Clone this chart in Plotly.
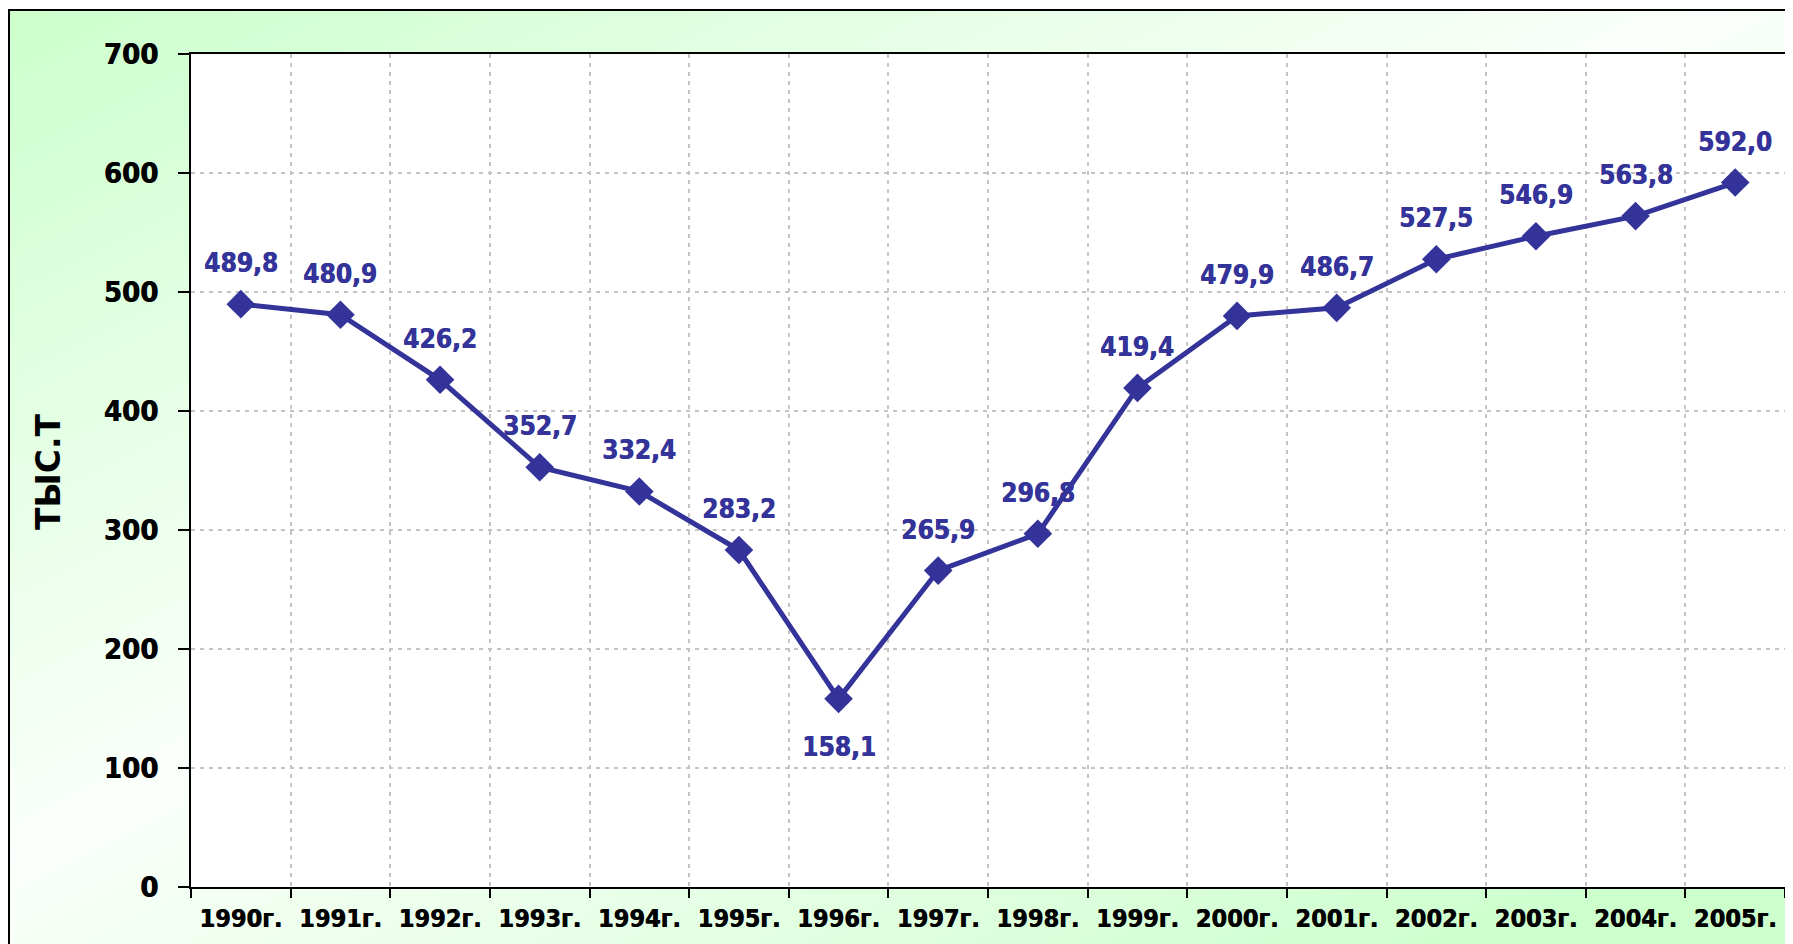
import base64
import plotly.graph_objects as go

years = ["1990г.", "1991г.", "1992г.", "1993г.", "1994г.", "1995г.", "1996г.", "1997г.",
         "1998г.", "1999г.", "2000г.", "2001г.", "2002г.", "2003г.", "2004г.", "2005г."]
values = [489.8, 480.9, 426.2, 352.7, 332.4, 283.2, 158.1, 265.9,
          296.8, 419.4, 479.9, 486.7, 527.5, 546.9, 563.8, 592.0]
y_ticks = [0, 100, 200, 300, 400, 500, 600, 700]
y_title = "ТЫС.Т"

OFF = 8  # page body margin
W, H = 1793 - OFF, 944 - OFF
L, T, R, B = 191 - OFF, 54 - OFF, 8, 57
pw, ph = W - L - R, H - T - B

BLUE = "#333399"
FONT = "DejaVu Sans"
CFONT = "DejaVu Sans Condensed, DejaVu Sans"
BLUE_SH = f"0.6px 0 0 {BLUE}"
BLACK_SH = "0.6px 0 0 black"

# background gradient (SVG data URI)
bx0, by0 = 9 - OFF, 10 - OFF
bw, bh = W - bx0 + 20, H - by0 + 20
svg = f'''<svg xmlns="http://www.w3.org/2000/svg" width="{bw}" height="{bh}" viewBox="0 0 {bw} {bh}" preserveAspectRatio="none">
<defs><linearGradient id="g" gradientUnits="userSpaceOnUse" x1="0" y1="0" x2="676" y2="1360">
<stop offset="0" stop-color="#ccffcc"/><stop offset="0.5" stop-color="#fbfffb"/><stop offset="1" stop-color="#ccffcc"/>
</linearGradient></defs><rect x="0" y="0" width="{bw}" height="{bh}" fill="url(#g)"/></svg>'''
src = "data:image/svg+xml;base64," + base64.b64encode(svg.encode()).decode()

def px_to_paper_x(px):
    return (px - L) / pw

def px_to_paper_y(py):
    return 1 - (py - T) / ph

fig = go.Figure()
fig.add_trace(go.Scatter(
    x=years, y=values, mode="lines+markers",
    line=dict(color=BLUE, width=5),
    marker=dict(symbol="diamond", size=22, color=BLUE),
    hoverinfo="skip", showlegend=False,
))

labels = [f"{v:.1f}".replace(".", ",") for v in values]
min_i = values.index(min(values))
for i, (yr, v, lab) in enumerate(zip(years, values, labels)):
    fig.add_annotation(
        x=yr, y=v, text=lab, showarrow=False,
        yshift=-48 if i == min_i else 41,
        font=dict(family=CFONT, size=26, color=BLUE, weight="bold", shadow=BLUE_SH),
    )

fig.add_annotation(
    xref="paper", yref="paper", x=px_to_paper_x(48 - OFF), y=px_to_paper_y(472 - OFF),
    xanchor="center", yanchor="middle",
    text=y_title, textangle=-90, showarrow=False,
    font=dict(family=FONT, size=33, color="black", weight="bold"),
)

fig.add_layout_image(dict(
    source=src, xref="paper", yref="paper",
    x=px_to_paper_x(bx0), y=px_to_paper_y(by0),
    sizex=bw / pw, sizey=bh / ph, xanchor="left", yanchor="top",
    sizing="stretch", layer="below",
))
fig.add_shape(
    type="rect", xref="paper", yref="paper",
    x0=px_to_paper_x(bx0), y0=px_to_paper_y(H + 20),
    x1=px_to_paper_x(W + 20), y1=px_to_paper_y(by0),
    line=dict(color="black", width=2), fillcolor="rgba(0,0,0,0)", layer="below",
)
fig.add_shape(
    type="rect", xref="paper", yref="paper", x0=0, y0=0, x1=1, y1=1,
    line=dict(width=0), fillcolor="white", layer="below",
)

fig.update_layout(
    width=W, height=H,
    margin=dict(l=L, r=R, t=T, b=B, autoexpand=False),
    paper_bgcolor="white", plot_bgcolor="white",
    font=dict(family=FONT, color="black"),
)
fig.update_xaxes(
    type="category", range=[-0.5, len(years) - 0.5],
    tickson="boundaries", ticks="outside", ticklen=9, tickwidth=2, tickcolor="black",
    showline=True, linecolor="black", linewidth=2, mirror=True,
    showgrid=True, gridcolor="#c4c4c4", gridwidth=2, griddash="4px,5px",
    tickfont=dict(family=CFONT, size=25, color="black", weight="bold", shadow=BLACK_SH),
    ticklabelstandoff=8,
)
fig.update_yaxes(
    range=[0, 700], tickvals=y_ticks, ticktext=[str(t) for t in y_ticks],
    ticks="outside", ticklen=11, tickwidth=2, tickcolor="black",
    showline=True, linecolor="black", linewidth=2, mirror=True,
    showgrid=True, gridcolor="#c4c4c4", gridwidth=2, griddash="4px,5px",
    zeroline=False,
    tickfont=dict(family=CFONT, size=29, color="black", weight="bold", shadow=BLACK_SH),
    ticklabelstandoff=14,
)

fig.write_html("out.html")
